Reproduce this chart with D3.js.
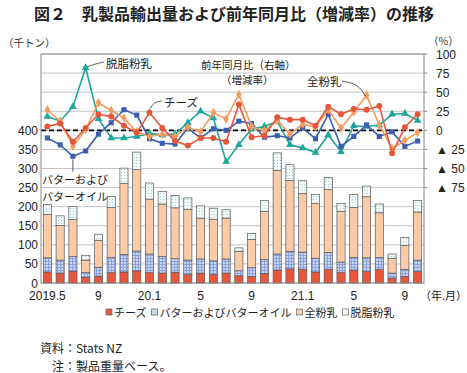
<!DOCTYPE html>
<html>
<head>
<meta charset="utf-8">
<script src="https://cdn.jsdelivr.net/npm/d3@7"></script>
<style>
  body { margin: 0; background: #fff; }
  svg { display: block; font-family: "Liberation Sans", Arial, "Noto Sans CJK JP", sans-serif; }
  .jp { font-family: "Noto Sans CJK JP", sans-serif; }
</style>
</head>
<body>
<script>
// months on the x axis
const months = ["2019.5","2019.6","2019.7","2019.8","2019.9","2019.10","2019.11","2019.12",
  "2020.1","2020.2","2020.3","2020.4","2020.5","2020.6","2020.7","2020.8","2020.9","2020.10","2020.11","2020.12",
  "2021.1","2021.2","2021.3","2021.4","2021.5","2021.6","2021.7","2021.8","2021.9","2021.10"];
const xTicks = ["2019.5","2019.9","2020.1","2020.5","2020.9","2021.1","2021.5","2021.9"];
const xTickLabels = ["2019.5","9","20.1","5","9","21.1","5","9"];

// export volume (thousand tonnes)
const cheese = [29,26,31,15,18,27,29,32,27,26,28,23,26,23,26,19,17,25,34,37,36,29,36,27,34,30,35,13,17,30];
const butter = [37,34,38,12,23,40,46,52,49,43,36,37,37,35,37,13,23,37,42,46,45,36,44,28,33,36,32,13,18,30];
const wmp    = [114,91,97,33,71,131,186,213,144,138,133,133,107,109,107,51,74,126,219,186,153,143,165,133,131,160,117,39,63,126];
const smp    = [26,25,34,12,16,29,40,46,42,33,32,30,32,29,22,9,16,28,46,41,34,24,31,20,34,28,23,11,21,30];

// year-on-year change (%)
const cheeseYoy = [5,9,-15,3,21,18,6,-3,23,3,-14,-20,-10,-10,-15,34,-9,-7,17,14,14,6,31,21,28,27,32,-30,4,21];
const butterYoy = [-10,-19,-34,-27,-5,10,27,20,-11,-17,-18,3,-10,2,0,12,9,-9,-7,-10,3,-11,21,-21,-8,7,-8,-2,-21,-14];
const wmpYoy    = [27,12,-21,1,36,26,16,-2,-8,-5,-8,4,-2,23,15,47,5,-1,13,-5,8,4,27,3,24,46,7,-24,-13,-3];
const smpYoy    = [18,12,31,82,15,-10,-10,-8,-4,-6,-5,10,25,16,-41,-19,2,5,12,-19,-23,-29,-6,-28,6,5,7,21,22,13];

const leftTicks = [0,50,100,150,200,250,300,350,400];
const rightTicks = [-75,-50,-25,0,25,50,75,100];

const width = 467, height = 373;
const plotLeft = 41, plotRight = 424, plotTop = 54, plotBottom = 283;

const svg = d3.select("body").append("svg")
  .attr("width", width).attr("height", height);

// patterns for butter and skim milk powder
const defs = svg.append("defs");
const pb = defs.append("pattern").attr("id", "butterPat")
  .attr("width", 3).attr("height", 3).attr("patternUnits", "userSpaceOnUse");
pb.append("rect").attr("width", 3).attr("height", 3).attr("fill", "#c9d5f2");
pb.append("rect").attr("width", 3).attr("height", 1).attr("fill", "#8aa2dc");
pb.append("rect").attr("width", 1).attr("height", 3).attr("fill", "#8aa2dc");
const ps = defs.append("pattern").attr("id", "smpPat")
  .attr("width", 3).attr("height", 3).attr("patternUnits", "userSpaceOnUse");
ps.append("rect").attr("width", 3).attr("height", 3).attr("fill", "#f3fafa");
ps.append("rect").attr("x", 1).attr("y", 1).attr("width", 1).attr("height", 1).attr("fill", "#9ccfd3");

const x = d3.scaleBand().domain(months).range([plotLeft, plotRight]).paddingInner(0.36).paddingOuter(0.18);
const yL = d3.scaleLinear().domain([0, 600]).range([plotBottom, plotTop]);
const yR = d3.scaleLinear().domain([-200, 100]).range([plotBottom, plotTop]);
const cx = m => x(m) + x.bandwidth() / 2;

// title
svg.append("text").attr("class", "jp")
  .attr("x", 234).attr("y", 20).attr("text-anchor", "middle")
  .attr("font-size", 16).attr("font-weight", "bold").attr("fill", "#222")
  .text("図２　乳製品輸出量および前年同月比（増減率）の推移");

svg.append("text").attr("class", "jp").attr("x", 3).attr("y", 47)
  .attr("font-size", 10.5).attr("fill", "#333").text("（千トン）");
svg.append("text").attr("class", "jp").attr("x", 428).attr("y", 45)
  .attr("font-size", 10.5).attr("fill", "#333").text("（%）");

// gridlines
svg.append("g").selectAll("line")
  .data(d3.range(0, 601, 50))
  .join("line")
  .attr("x1", plotLeft).attr("x2", plotRight)
  .attr("y1", d => yL(d)).attr("y2", d => yL(d))
  .attr("stroke", "#c4c4c4").attr("stroke-width", 1);

// stacked bars
const rows = months.map((m, i) => ({ month: m, cheese: cheese[i], butter: butter[i], wmp: wmp[i], smp: smp[i] }));
const keys = ["cheese", "butter", "wmp", "smp"];
const fills = { cheese: "#e8573b", butter: "url(#butterPat)", wmp: "#fbcba8", smp: "url(#smpPat)" };
const stacked = d3.stack().keys(keys)(rows);

svg.append("g").selectAll("g")
  .data(stacked)
  .join("g")
  .attr("fill", d => fills[d.key])
  .selectAll("rect")
  .data(d => d)
  .join("rect")
  .attr("x", d => x(d.data.month))
  .attr("width", x.bandwidth())
  .attr("y", d => yL(d[1]))
  .attr("height", d => yL(d[0]) - yL(d[1]))
  .attr("stroke", "#5a5a5a").attr("stroke-width", 0.7);

// zero line of right axis
svg.append("line")
  .attr("x1", plotLeft).attr("x2", plotRight)
  .attr("y1", yR(0)).attr("y2", yR(0))
  .attr("stroke", "#000").attr("stroke-width", 1.8).attr("stroke-dasharray", "5,3");

// yoy lines
const lineSeries = [
  { values: smpYoy, color: "#1ea59c", symbol: d3.symbolTriangle, size: 26 },
  { values: butterYoy, color: "#3c5eae", symbol: d3.symbolSquare, size: 26 },
  { values: wmpYoy, color: "#f39c5e", symbol: d3.symbolDiamond, size: 26 },
  { values: cheeseYoy, color: "#e4573b", symbol: d3.symbolCircle, size: 28 }
];
const line = d3.line().x((d, i) => cx(months[i])).y(d => yR(d));

lineSeries.forEach(s => {
  svg.append("path")
    .attr("d", line(s.values))
    .attr("fill", "none").attr("stroke", s.color).attr("stroke-width", 1.6);
  svg.append("g").selectAll("path")
    .data(s.values)
    .join("path")
    .attr("transform", (d, i) => `translate(${cx(months[i])},${yR(d)})`)
    .attr("d", d3.symbol().type(s.symbol).size(s.size))
    .attr("fill", s.color);
});

// plot border
svg.append("rect")
  .attr("x", plotLeft).attr("y", plotTop)
  .attr("width", plotRight - plotLeft).attr("height", plotBottom - plotTop)
  .attr("fill", "none").attr("stroke", "#8a8a8a").attr("stroke-width", 1);

// left axis labels
svg.append("g").selectAll("text")
  .data(leftTicks)
  .join("text")
  .attr("x", 38).attr("y", d => yL(d) + 4.5)
  .attr("text-anchor", "end").attr("font-size", 12).attr("fill", "#222")
  .text(d => d);

// right axis labels
svg.append("g").selectAll("text")
  .data(rightTicks)
  .join("text")
  .attr("x", 436).attr("y", d => yR(d) + 4.5)
  .attr("font-size", 12).attr("fill", "#222")
  .text(d => d < 0 ? "▲ " + (-d) : d);

svg.append("g").selectAll("line")
  .data(rightTicks)
  .join("line")
  .attr("x1", plotRight).attr("x2", plotRight + 3)
  .attr("y1", d => yR(d)).attr("y2", d => yR(d))
  .attr("stroke", "#8a8a8a");

// x axis labels
svg.append("g").selectAll("text")
  .data(xTicks)
  .join("text")
  .attr("x", d => cx(d)).attr("y", 300)
  .attr("text-anchor", "middle").attr("font-size", 12).attr("fill", "#222")
  .text((d, i) => xTickLabels[i]);
svg.append("text").attr("class", "jp").attr("x", 420).attr("y", 300)
  .attr("font-size", 11).attr("fill", "#222").text("（年.月）");

// annotations
const note = (tx, ty, s, size) => svg.append("text").attr("class", "jp")
  .attr("x", tx).attr("y", ty).attr("font-size", size).attr("fill", "#222").text(s);
const lead = (pts) => svg.append("path")
  .attr("d", d3.line().curve(d3.curveBasis)(pts))
  .attr("fill", "none").attr("stroke", "#333").attr("stroke-width", 0.8);

note(106, 68, "脱脂粉乳", 11.5);
lead([[cx(months[3]) + 2, yR(smpYoy[3]) - 1], [95, 64], [104, 62]]);
note(164, 107, "チーズ", 11.5);
lead([[cx(months[8]), yR(cheeseYoy[8]) - 3], [154, 102], [162, 101]]);
note(201, 69, "前年同月比（右軸）", 10.5);
note(221, 84, "（増減率）", 10.5);
note(307, 86, "全粉乳", 11.5);
lead([[342, 81], [358, 84], [cx(months[25]) - 1, yR(wmpYoy[25]) + 1]]);
note(42, 184, "バターおよび", 11);
note(42, 201, "バターオイル", 11);
lead([[cx(months[2]), yR(butterYoy[2]) + 3], [cx(months[2]), 172]]);

// legend
const legendItems = [
  { label: "チーズ", fill: "#e8573b" },
  { label: "バターおよびバターオイル", fill: "#c9d5f2" },
  { label: "全粉乳", fill: "#fbcba8" },
  { label: "脱脂粉乳", fill: "#ffffff" }
];
let lx = 106;
legendItems.forEach(it => {
  svg.append("rect").attr("x", lx).attr("y", 309).attr("width", 6).attr("height", 6)
    .attr("fill", it.fill).attr("stroke", "#666").attr("stroke-width", 0.7);
  const t = svg.append("text").attr("class", "jp")
    .attr("x", lx + 8).attr("y", 317).attr("font-size", 11).attr("fill", "#222").text(it.label);
  lx += 8 + t.node().getComputedTextLength() + 5;
});

// source
note(40, 353, "資料：Stats NZ", 12);
note(52, 371, "注：製品重量ベース。", 12);
</script>
</body>
</html>
